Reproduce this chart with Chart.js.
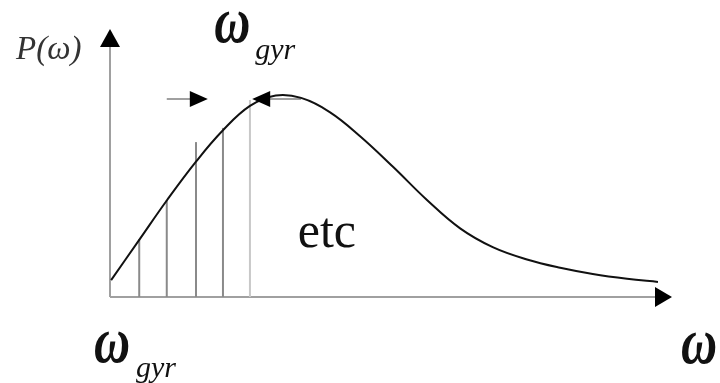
<!DOCTYPE html>
<html>
<head>
<meta charset="utf-8">
<script src="https://cdn.jsdelivr.net/npm/chart.js@4"></script>
<style>
  html, body { margin: 0; padding: 0; background: #fff; }
  canvas { display: block; }
</style>
</head>
<body>
<canvas id="spectrum" width="720" height="383"></canvas>
<script>
// curve P(omega), frequency in arbitrary units
const freq  = [0.02, 0.52, 1.01, 1.53, 2.01, 2.49, 2.95, 3.40, 3.91, 4.45, 5.04, 5.64, 6.23, 6.81, 7.42, 8.01, 8.59, 9.20, 9.75];
const power = [0.063, 0.213, 0.360, 0.505, 0.622, 0.713, 0.752, 0.743, 0.690, 0.600, 0.485, 0.362, 0.256, 0.186, 0.140, 0.109, 0.086, 0.068, 0.056];

// vertical sampling lines under the curve
const stemX   = [0.52, 1.01, 1.53, 2.01, 2.49];
const stemTop = [0.216, 0.362, 0.578, 0.631, 0.735];

// the two arrows pointing at the peak: [from, to]
const arrowRight = [1.01, 1.74];
const arrowLeft  = [3.40, 2.53];
const arrowLevel = 0.739;

const colors = {
    curve: '#111111',
    axis: '#a0a0a0',
    stem: '#8a8a8a',
    stemLast: '#c8c8c8',
    head: '#000000',
    text: '#111111'
};

const datasets = [{
    data: freq.map((x, i) => ({ x: x, y: power[i] })),
    borderColor: colors.curve,
    borderWidth: 2,
    pointRadius: 0,
    tension: 0.4,
    order: 0
}];
stemX.forEach((x, i) => {
    datasets.push({
        data: [{ x: x, y: 0 }, { x: x, y: stemTop[i] }],
        borderColor: i === stemX.length - 1 ? colors.stemLast : colors.stem,
        borderWidth: 2,
        pointRadius: 0,
        order: 1
    });
});

function head(ctx, tipX, tipY, dir, len, half) {
    // dir: 'up', 'right', 'left'
    ctx.beginPath();
    ctx.moveTo(tipX, tipY);
    if (dir === 'up') {
        ctx.lineTo(tipX - half, tipY + len);
        ctx.lineTo(tipX + half, tipY + len);
    } else if (dir === 'right') {
        ctx.lineTo(tipX - len, tipY - half);
        ctx.lineTo(tipX - len, tipY + half);
    } else {
        ctx.lineTo(tipX + len, tipY - half);
        ctx.lineTo(tipX + len, tipY + half);
    }
    ctx.closePath();
    ctx.fillStyle = colors.head;
    ctx.fill();
}

// omega drawn a bit taller than the font gives, like the symbol font in the original
function omega(ctx, x, baseline) {
    ctx.save();
    ctx.translate(x, baseline);
    ctx.scale(1, 1.3);
    ctx.font = 'bold italic 50px "Liberation Serif"';
    ctx.fillText('ω', 0, 0);
    ctx.restore();
}

const decor = {
    id: 'decor',
    beforeDatasetsDraw(chart) {
        const ctx = chart.ctx;
        const xs = chart.scales.x, ys = chart.scales.y;
        const x0 = xs.getPixelForValue(0), x1 = xs.getPixelForValue(xs.max);
        const y0 = ys.getPixelForValue(0), y1 = ys.getPixelForValue(ys.max);
        ctx.save();
        ctx.strokeStyle = colors.axis;
        ctx.lineWidth = 2;
        ctx.beginPath();
        ctx.moveTo(x0, y0); ctx.lineTo(x1 - 10, y0);
        ctx.moveTo(x0, y0); ctx.lineTo(x0, y1 + 10);
        ctx.stroke();
        head(ctx, x1, y0, 'right', 17, 10);
        head(ctx, x0, y1, 'up', 18, 10);

        // arrows at the peak
        const ay = ys.getPixelForValue(arrowLevel);
        const r0 = xs.getPixelForValue(arrowRight[0]), r1 = xs.getPixelForValue(arrowRight[1]);
        const l0 = xs.getPixelForValue(arrowLeft[0]), l1 = xs.getPixelForValue(arrowLeft[1]);
        ctx.strokeStyle = colors.axis;
        ctx.beginPath();
        ctx.moveTo(r0, ay); ctx.lineTo(r1 - 10, ay);
        ctx.moveTo(l0, ay); ctx.lineTo(l1 + 10, ay);
        ctx.stroke();
        ctx.restore();
    },
    afterDatasetsDraw(chart) {
        const ctx = chart.ctx;
        const xs = chart.scales.x, ys = chart.scales.y;
        const ay = ys.getPixelForValue(arrowLevel);
        head(ctx, xs.getPixelForValue(arrowRight[1]), ay, 'right', 18, 8);
        head(ctx, xs.getPixelForValue(arrowLeft[1]), ay, 'left', 18, 8);

        const x0 = xs.getPixelForValue(0), y0 = ys.getPixelForValue(0);
        const y1 = ys.getPixelForValue(ys.max);
        ctx.save();
        ctx.textBaseline = 'alphabetic';
        ctx.textAlign = 'left';

        // y axis label
        ctx.fillStyle = '#333';
        ctx.font = 'italic 33px "Liberation Serif"';
        ctx.fillText('P(ω)', x0 - 94, y1 + 30);

        ctx.fillStyle = colors.text;
        // omega_gyr above the peak
        const px = xs.getPixelForValue(arrowLeft[1]);
        omega(ctx, px - 38, y1 + 13);
        ctx.font = 'italic 30px "Liberation Serif"';
        ctx.fillText('gyr', px + 3, y1 + 30);

        // omega_gyr at the origin
        omega(ctx, x0 - 16, y0 + 65);
        ctx.font = 'italic 30px "Liberation Serif"';
        ctx.fillText('gyr', x0 + 26, y0 + 80);

        // omega at the end of the x axis
        omega(ctx, xs.getPixelForValue(xs.max) + 9, y0 + 66);

        // etc
        ctx.font = '50px "Liberation Serif"';
        ctx.fillText('etc', xs.getPixelForValue(3.34), ys.getPixelForValue(0.186));
        ctx.restore();
    }
};

new Chart(document.getElementById('spectrum'), {
    type: 'line',
    data: { datasets: datasets },
    options: {
        responsive: false,
        animation: false,
        layout: { padding: { left: 110, right: 48, top: 29, bottom: 86 } },
        plugins: {
            legend: { display: false },
            tooltip: { enabled: false }
        },
        scales: {
            x: { type: 'linear', min: 0, max: 10, display: false },
            y: { min: 0, max: 1, display: false }
        }
    },
    plugins: [decor]
});
</script>
</body>
</html>
